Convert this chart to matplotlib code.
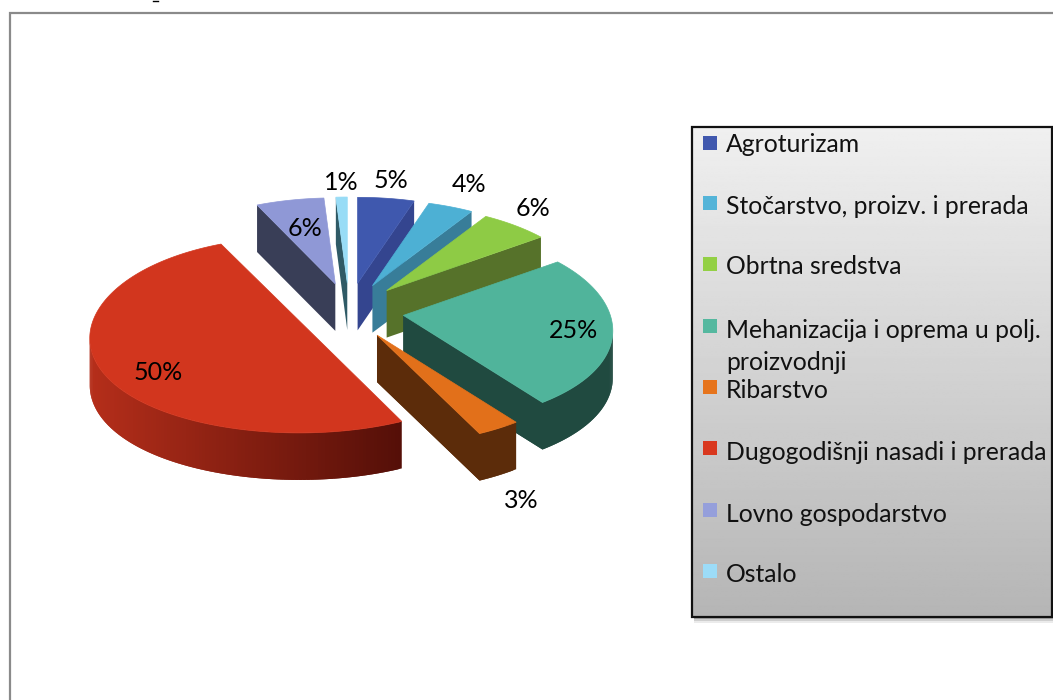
import numpy as np
import matplotlib
matplotlib.use("Agg")
import matplotlib.pyplot as plt
from matplotlib.patches import Rectangle
from matplotlib.colors import to_rgb

categories = ["Agroturizam", "Stočarstvo, proizv. i prerada", "Obrtna sredstva",
              "Mehanizacija i oprema u polj.\nproizvodnji", "Ribarstvo",
              "Dugogodišnji nasadi i prerada", "Lovno gospodarstvo", "Ostalo"]
values = [5, 4, 6, 25, 3, 50, 6, 1]

top_colors = ["#3f58ae", "#4db0d4", "#8ecb45", "#50b49b", "#e2701a", "#d2361e", "#8f98d6", "#98dcf6"]
wall_near = ["#34458f", "#387d99", "#56722a", "#204a40", "#5c2c0a", "#b52e1a", "#393e57", "#2f5a66"]
wall_far = ["#34458f", "#387d99", "#56722a", "#204a40", "#5c2c0a", "#540f08", "#393e57", "#2f5a66"]
legend_colors = ["#4058ae", "#54b4d8", "#93d045", "#55b89f", "#e6741c", "#d9381e", "#959fdb", "#9cdcf8"]

label_xy = [(391, 180), (469, 184), (533, 208), (573, 330), (521, 501), (158, 373), (305, 228), (341, 182)]
legend_y = [144, 206, 267, 330, 390, 452, 514, 575]
swatch_y = [143, 203, 264, 326, 387, 448, 510, 571]

FONT = "Lato"
CX, CY, EX, EY, DEPTH = 349, 311, 55, 28, 47


def rim(apex, t):
    c = np.cos(t)
    ax_len = 207 - 31.5 * c + 6.5 * c * c
    by_len = 98 - 12 * c
    return apex[0] + ax_len * np.sin(t), apex[1] - by_len * c


fig = plt.figure(figsize=(10.53, 7.0), dpi=100, facecolor="white")
ax = fig.add_axes([0, 0, 1, 1])
ax.set_xlim(0, 1053)
ax.set_ylim(700, 0)
ax.axis("off")

# outer chart frame
ax.plot([10, 10, 1053], [700, 13, 13], color="#8a8a8a", lw=1.6, solid_joinstyle="miter")
ax.plot([153, 158], [0.5, 0.5], color="black", lw=1.0)

# 3D exploded pie
edges = np.cumsum([0] + values) / sum(values) * 2 * np.pi
wedges = []
for i, v in enumerate(values):
    a0, a1 = edges[i], edges[i + 1]
    mid = (a0 + a1) / 2
    apex = (CX + EX * np.sin(mid), CY - EY * np.cos(mid))
    ts = np.linspace(a0, a1, max(4, int(v * 4)))
    arc = [rim(apex, t) for t in ts]
    if v * 2 == sum(values):  # a half disc has a straight cut edge
        apex = ((arc[0][0] + arc[-1][0]) / 2, (arc[0][1] + arc[-1][1]) / 2)
    wedges.append((apex[1], i, [apex] + arc))

for _, i, poly in sorted(wedges, key=lambda w: w[0]):
    pts = np.array(poly)
    xmin, xmax = pts[:, 0].min(), pts[:, 0].max()
    near, far = np.array(to_rgb(wall_near[i])), np.array(to_rgb(wall_far[i]))
    n = len(pts)
    faces = []
    for j in range(n):
        p, q = pts[j], pts[(j + 1) % n]
        if q[0] < p[0]:
            faces.append((p, q))
    # paint from right to left, each strip reaching under the next, so no seams show
    for k, (p, q) in enumerate(faces):
        f = ((p[0] + q[0]) / 2 - xmin) / (xmax - xmin)
        c = near + (far - near) * f
        if k + 1 < len(faces) and np.allclose(faces[k + 1][0], q):
            r = faces[k + 1][1]
            xs = [p[0], q[0], r[0], r[0], q[0], p[0]]
            ys = [p[1], q[1], r[1], r[1] + DEPTH, q[1] + DEPTH, p[1] + DEPTH]
        else:
            xs = [p[0], q[0], q[0], p[0]]
            ys = [p[1], q[1], q[1] + DEPTH, p[1] + DEPTH]
        ax.fill(xs, ys, facecolor=c, edgecolor="none", lw=0, zorder=2)
    ax.fill(pts[:, 0], pts[:, 1], facecolor=top_colors[i], edgecolor=top_colors[i], lw=0.5, zorder=2)

for (x, y), v in zip(label_xy, values):
    ax.text(x, y, f"{v}%", ha="center", va="center", fontsize=18, family=FONT, color="black", zorder=5)

# legend box: soft shadow, gradient, border
for k, al in zip([6, 4, 2], [0.08, 0.12, 0.18]):
    ax.add_patch(Rectangle((692 + 2, 127 + k), 360 + k, 490, facecolor="black", alpha=al, lw=0, zorder=3))
grad = np.linspace(0.94, 0.71, 256).reshape(-1, 1)
ax.imshow(grad, extent=(692, 1052, 617, 127), cmap="gray", vmin=0, vmax=1, aspect="auto", zorder=4)
ax.set_xlim(0, 1053)
ax.set_ylim(700, 0)
ax.add_patch(Rectangle((692, 127), 360, 490, facecolor="none", edgecolor="#111111", lw=1.6, zorder=5))

for name, c, ty, sy in zip(categories, legend_colors, legend_y, swatch_y):
    ax.add_patch(Rectangle((703, sy - 7), 14, 14, facecolor=c, lw=0, zorder=6))
    lines = name.split("\n")
    ax.text(726, ty, lines[0], ha="left", va="center", fontsize=17.8, family=FONT, color="#111111", zorder=6)
    if len(lines) > 1:
        ax.text(726, ty + 33, lines[1], ha="left", va="center", fontsize=17.8, family=FONT, color="#111111", zorder=6)

fig.savefig("out.png", dpi=100)
